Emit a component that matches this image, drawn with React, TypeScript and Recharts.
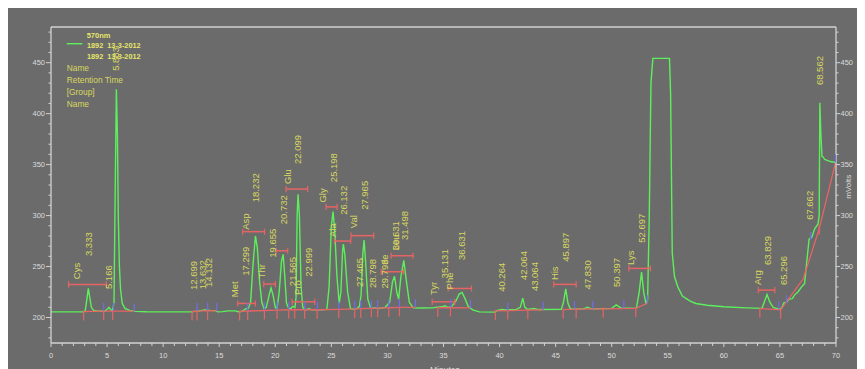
import { ComposedChart, Line, Scatter, XAxis, YAxis, ReferenceLine } from "recharts";

// detector trace, [minutes, mVolts]
const trace: [number, number][] = [
  [0, 205.5], [2.9, 205.5], [3.05, 206.5], [3.2, 218], [3.33, 228.5], [3.45, 220], [3.6, 210], [3.8, 207],
  [4.2, 206.3], [4.8, 206.2], [5.0, 208], [5.17, 210], [5.35, 207.5], [5.5, 207], [5.62, 215], [5.72, 320],
  [5.83, 424], [5.92, 380], [6.0, 300], [6.1, 250], [6.2, 228], [6.35, 214], [6.6, 209], [7.0, 207],
  [7.5, 206], [8.5, 205.7], [12.6, 205.5], [12.8, 206], [13.2, 206.5], [13.7, 207.5], [14.2, 207],
  [14.7, 206.8], [14.85, 205.5], [15.3, 205.8], [15.8, 206.5], [16.4, 206.5], [16.8, 205.5], [17.1, 206.5],
  [17.35, 208.5], [17.6, 209], [17.8, 215], [18.0, 250], [18.23, 280], [18.4, 268], [18.6, 235], [18.8, 215],
  [19.0, 208.5], [19.2, 210], [19.45, 222], [19.62, 229], [19.8, 222], [20.0, 210], [20.15, 208.5],
  [20.35, 225], [20.55, 255], [20.7, 262], [20.85, 240], [21.0, 214], [21.2, 209], [21.4, 209], [21.57, 211],
  [21.75, 210], [21.85, 220], [21.95, 300], [22.03, 321], [22.15, 300], [22.3, 230], [22.45, 210],
  [22.7, 207.5], [23.0, 208.5], [23.3, 207.5], [24.0, 207.5], [24.6, 208], [24.8, 230], [25.0, 290],
  [25.15, 304], [25.3, 285], [25.5, 240], [25.7, 214], [25.85, 225], [26.0, 265], [26.07, 272], [26.2, 262],
  [26.45, 225], [26.7, 209], [27.0, 208], [27.3, 209], [27.5, 211], [27.65, 222], [27.8, 262], [27.92, 276],
  [28.05, 255], [28.25, 218], [28.5, 209], [28.8, 209.5], [29.3, 209], [29.8, 210], [30.2, 215], [30.45, 235],
  [30.63, 240.5], [30.85, 224], [31.0, 218], [31.2, 240], [31.46, 256], [31.7, 235], [31.95, 215],
  [32.3, 209.5], [33.0, 209.3], [34.0, 209.5], [34.8, 210.5], [35.13, 211.5], [35.4, 210], [35.7, 210.5],
  [36.1, 216], [36.4, 223], [36.65, 224.6], [36.9, 219], [37.2, 211], [37.6, 207.5], [38.2, 205.5],
  [39.6, 205.3], [39.8, 207], [40.2, 208], [40.5, 207.5], [41.5, 208], [41.85, 210], [42.07, 219],
  [42.25, 210], [42.5, 208], [43.06, 208.8], [43.5, 207.8], [45.5, 208], [45.7, 215], [45.9, 228],
  [46.1, 214], [46.3, 208.5], [47.5, 208.5], [47.83, 210], [48.2, 208.5], [50.0, 209], [50.4, 212.4],
  [50.8, 209.5], [52.2, 209], [52.45, 225], [52.66, 244.6], [52.85, 225], [53.05, 214], [53.2, 217],
  [53.35, 300], [53.5, 430], [53.67, 454.2], [55.15, 454.2], [55.25, 420], [55.4, 263], [55.6, 240],
  [55.9, 230], [56.3, 221], [57.0, 216], [57.5, 213.8], [58.5, 212], [60.0, 210.5], [62.0, 209.5],
  [63.4, 209], [63.6, 215], [63.85, 222.6], [64.1, 215], [64.4, 210], [65.0, 208], [65.2, 210],
  [65.35, 214.4], [65.6, 215], [65.8, 218], [66.1, 218.5], [66.3, 222], [66.6, 225], [67.0, 231],
  [67.2, 233.5], [67.35, 250], [67.6, 277], [67.85, 279], [68.1, 287], [68.4, 291.8], [68.5, 300],
  [68.56, 410.6], [68.65, 380], [68.75, 358], [68.85, 357.5], [69.0, 355], [69.5, 353], [70.0, 352],
];

// integration baseline, null = break
const baseline: [number, number | null][] = [
  [2.91, 205.8], [4.7, 206.2], [5.5, 206.3], [7.43, 206.2], [10, null],
  [12.58, 205.8], [13.02, 206.2], [13.97, 206.7], [14.78, 206.6], [15.5, null],
  [16.82, 206], [17.54, 206.4], [19.03, 206.9], [20.16, 207.3], [21.2, 207.6], [21.73, 207.8],
  [22.62, 207.6], [23.73, 207.6], [25.66, 208], [27.08, 208.4], [27.62, 208.7], [28.57, 209],
  [29.13, 209.2], [30.12, 209.6], [31.07, 210], [32.5, 210], [33.5, null],
  [34.49, 209.6], [35.62, 209.8], [37.4, 209.5], [38.5, null],
  [39.63, 206.5], [40.73, 206.8], [42.52, 207.2], [43.89, 207.5], [44.8, null],
  [45.67, 207.8], [46.83, 208.2], [48.31, 208.5], [49.24, 208.5], [51.08, 208.8], [52.15, 209],
  [53.17, 214], [58, null],
  [63.21, 208.8], [65.06, 207.5], [67.08, 238], [68.5, 287], [69.96, 352],
];

// red drop lines at peak starts/ends
const dropMarks: [number, number][] = [
  [2.91, 205.8], [4.7, 206.2], [5.5, 206.3], [12.58, 205.8], [13.02, 206.2], [13.97, 206.7],
  [16.82, 206], [17.54, 206.4], [19.03, 206.9], [20.16, 207.3], [21.2, 207.6], [21.73, 207.8],
  [22.62, 207.6], [23.73, 207.6], [25.66, 208], [27.08, 208.4], [27.62, 208.7], [28.57, 209],
  [29.13, 209.2], [30.12, 209.6], [31.07, 210], [34.49, 209.6], [35.62, 209.8], [39.63, 206.5],
  [40.73, 206.8], [42.52, 207.2], [45.67, 207.8], [46.83, 208.2], [49.24, 208.5], [52.15, 209],
  [63.21, 208.8], [65.06, 207.5], [68.5, 290],
];

// blue peak-end marks
const endMarks: [number, number][] = [
  [4.7, 206.3], [5.59, 206.5], [7.43, 206], [13.02, 206.3], [13.97, 206.8], [14.78, 206.6],
  [17.54, 206.5], [19.03, 207], [20.16, 207.4], [21.2, 207.7], [22.64, 207.6], [23.76, 207.6],
  [25.66, 208], [27.08, 208.5], [27.62, 208.8], [28.57, 209], [29.13, 209.3], [30.12, 209.6],
  [31.07, 210], [32.5, 210], [35.68, 210], [37.4, 209.5], [40.73, 207], [43.89, 207.5],
  [46.68, 208.2], [48.31, 208.5], [51.08, 208.8], [53.17, 214], [64.9, 208], [65.57, 214],
  [67.73, 276], [69.96, 352],
];

// named-peak retention windows
const widthBars: { name: string; from: number; to: number; mv: number }[] = [
  { name: "Cys", from: 1.57, to: 4.93, mv: 232.5 },
  { name: "Met", from: 16.65, to: 18.22, mv: 213.8 },
  { name: "Asp", from: 17.09, to: 19.05, mv: 284.2 },
  { name: "Thr", from: 18.97, to: 20.01, mv: 232.8 },
  { name: "Ser", from: 20.07, to: 21.11, mv: 265.5 },
  { name: "Glu", from: 20.96, to: 22.89, mv: 326 },
  { name: "Pro", from: 21.5, to: 23.52, mv: 215.4 },
  { name: "Gly", from: 24.53, to: 25.51, mv: 308.5 },
  { name: "Ala", from: 25.27, to: 26.73, mv: 275 },
  { name: "Val", from: 26.76, to: 28.78, mv: 280.3 },
  { name: "Ile", from: 29.44, to: 31.45, mv: 244.9 },
  { name: "Leu", from: 30.33, to: 32.29, mv: 260.6 },
  { name: "Tyr", from: 33.99, to: 36.0, mv: 215.4 },
  { name: "Phe", from: 35.42, to: 37.5, mv: 228.5 },
  { name: "His", from: 44.83, to: 46.83, mv: 232.5 },
  { name: "Lys", from: 51.53, to: 53.46, mv: 248.2 },
  { name: "Arg", from: 63.07, to: 64.55, mv: 226.9 },
];

// vertical peak labels: text, minutes, mVolts at text start
const peakLabels: [string, number, number][] = [
  ["Cys", 2.26, 237.6], ["3.333", 3.3, 260.3], ["5.166", 5.14, 227.9], ["5.883", 5.74, 442],
  ["12.699", 12.67, 227], ["13.632", 13.47, 227.8], ["14.132", 14.06, 230], ["Met", 16.35, 220],
  ["17.299", 17.33, 241], ["Asp", 17.33, 286], ["18.232", 18.22, 313], ["Thr", 18.73, 238.4],
  ["19.655", 19.71, 258.7], ["20.732", 20.7, 291.5], ["Glu", 21.05, 331], ["21.565", 21.55, 230.8],
  ["22.099", 22.0, 350.6], ["Pro", 21.95, 222], ["22.999", 22.93, 240], ["Gly", 24.17, 312.8],
  ["25.198", 25.15, 332.8], ["Ala", 25.1, 279], ["26.132", 26.1, 300.7], ["Val", 26.94, 287.6],
  ["27.465", 27.5, 230], ["27.965", 27.95, 305.6], ["28.798", 28.69, 229], ["29.798", 29.73, 228.5],
  ["Ile", 29.78, 252], ["30.631", 30.71, 266], ["Leu", 30.75, 266], ["31.498", 31.52, 276],
  ["Tyr", 34.13, 222], ["35.131", 35.08, 238.4], ["Phe", 35.56, 227.6], ["36.631", 36.57, 256.4],
  ["40.264", 40.17, 225.2], ["42.064", 42.16, 236.7], ["43.064", 43.1, 225.9], ["His", 44.92, 236.7],
  ["45.897", 45.9, 254.7], ["47.830", 47.81, 227.6], ["50.397", 50.43, 230], ["Lys", 51.68, 251.5],
  ["52.697", 52.66, 273.4], ["Arg", 62.98, 231.8], ["63.829", 63.87, 251.5], ["65.296", 65.3, 231.8],
  ["67.662", 67.67, 295.8], ["68.562", 68.54, 428],
];

const xTicks = Array.from({ length: 71 }, (_, i) => i);
const yTicks = Array.from({ length: 31 }, (_, i) => 180 + i * 10);

const BG = "#6b6b6b";
const AXIS = "#d2d2d2";
const TICK_TEXT = "#dcdcdc";
const GREEN = "#5cf05c";
const RED = "#e86464";
const BLUE = "#6e6eea";
const YELLOW = "#d8d860";
const FONT = "'Liberation Sans', Arial, sans-serif";

function XTick({ x, y, payload }: any) {
  const major = payload.value % 5 === 0;
  return (
    <g>
      <line x1={x} x2={x} y1={y} y2={y + (major ? 4 : 3)} stroke={AXIS} />
      {major && (
        <text x={x} y={y + 12.5} textAnchor="middle" dominantBaseline="central" fill={TICK_TEXT} fontSize={7.5} fontFamily={FONT}>
          {payload.value}
        </text>
      )}
    </g>
  );
}

function YTickLeft({ x, y, payload }: any) {
  const major = payload.value % 50 === 0;
  return (
    <g>
      <line x1={x} x2={x - (major ? 5 : 2.5)} y1={y} y2={y} stroke={AXIS} />
      {major && (
        <text x={x - 6} y={y} textAnchor="end" dominantBaseline="central" fill={TICK_TEXT} fontSize={7.5} fontFamily={FONT}>
          {payload.value}
        </text>
      )}
    </g>
  );
}

function YTickRight({ x, y, payload }: any) {
  const major = payload.value % 50 === 0;
  return (
    <g>
      <line x1={x} x2={x + (major ? 4 : 2.5)} y1={y} y2={y} stroke={AXIS} />
      {major && (
        <text x={x + 4.5} y={y} textAnchor="start" dominantBaseline="central" fill={TICK_TEXT} fontSize={7.5} fontFamily={FONT}>
          {payload.value}
        </text>
      )}
    </g>
  );
}

const dropShape = (p: any) => <line x1={p.cx} x2={p.cx} y1={p.cy - 1} y2={p.cy + 9} stroke={RED} strokeWidth={1.2} />;
const endShape = (p: any) => <line x1={p.cx} x2={p.cx} y1={p.cy} y2={p.cy - 8} stroke={BLUE} strokeWidth={1.2} />;
const labelShape = (p: any) => (
  <text
    x={p.cx}
    y={p.cy}
    transform={`rotate(-90 ${p.cx} ${p.cy})`}
    dominantBaseline="central"
    fill={YELLOW}
    fontSize={9.5}
    fontFamily={FONT}
  >
    {p.payload.text}
  </text>
);

export default function App() {
  const traceData = trace.map(([t, v]) => ({ t, v }));
  const baseData = baseline.map(([t, v]) => ({ t, v }));
  const dropData = dropMarks.map(([t, v]) => ({ t, v }));
  const endData = endMarks.map(([t, v]) => ({ t, v }));
  const labelData = peakLabels.map(([text, t, v]) => ({ text, t, v }));

  return (
    <div style={{ position: "relative", width: 857, height: 361, background: BG, overflow: "hidden" }}>
      <ComposedChart width={857} height={361} data={traceData} margin={{ top: 19, right: 0, bottom: 0, left: 0 }}>
        <XAxis
          dataKey="t"
          type="number"
          domain={[0, 70]}
          ticks={xTicks}
          interval={0}
          height={26}
          tickSize={0}
          tickMargin={0}
          tickLine={false}
          axisLine={{ stroke: AXIS, strokeWidth: 1.3 }}
          tick={<XTick />}
          allowDataOverflow
        />
        <YAxis
          yAxisId="left"
          type="number"
          domain={[175, 485]}
          ticks={yTicks}
          interval={0}
          width={43}
          tickSize={0}
          tickMargin={0}
          tickLine={false}
          axisLine={{ stroke: AXIS, strokeWidth: 1.3 }}
          tick={<YTickLeft />}
          allowDataOverflow
        />
        <YAxis
          yAxisId="right"
          orientation="right"
          type="number"
          domain={[175, 485]}
          ticks={yTicks}
          interval={0}
          width={29}
          tickSize={0}
          tickMargin={0}
          tickLine={false}
          axisLine={{ stroke: AXIS, strokeWidth: 1.3 }}
          tick={<YTickRight />}
          allowDataOverflow
        />
        <ReferenceLine yAxisId="left" y={485} stroke={AXIS} strokeWidth={1.3} ifOverflow="visible" />
        <Line yAxisId="left" dataKey="v" type="linear" stroke={GREEN} strokeWidth={1.4} dot={false} isAnimationActive={false} />
        <Line
          yAxisId="left"
          data={baseData}
          dataKey="v"
          type="linear"
          stroke={RED}
          strokeWidth={1.3}
          dot={false}
          connectNulls={false}
          isAnimationActive={false}
        />
        <Scatter yAxisId="left" data={dropData} dataKey="v" shape={dropShape} isAnimationActive={false} />
        <Scatter yAxisId="left" data={endData} dataKey="v" shape={endShape} isAnimationActive={false} />
        {widthBars.map((b) => (
          <ReferenceLine
            key={b.name}
            yAxisId="left"
            segment={[{ x: b.from, y: b.mv }, { x: b.to, y: b.mv }]}
            stroke={RED}
            strokeWidth={1.5}
            ifOverflow="visible"
          />
        ))}
        {widthBars.map((b) => (
          <ReferenceLine
            key={b.name + "-a"}
            yAxisId="left"
            segment={[{ x: b.from, y: b.mv - 3 }, { x: b.from, y: b.mv + 3 }]}
            stroke={RED}
            strokeWidth={1.2}
            ifOverflow="visible"
          />
        ))}
        {widthBars.map((b) => (
          <ReferenceLine
            key={b.name + "-b"}
            yAxisId="left"
            segment={[{ x: b.to, y: b.mv - 3 }, { x: b.to, y: b.mv + 3 }]}
            stroke={RED}
            strokeWidth={1.2}
            ifOverflow="visible"
          />
        ))}
        <Scatter yAxisId="left" data={labelData} dataKey="v" shape={labelShape} isAnimationActive={false} />
      </ComposedChart>
      <svg width={857} height={361} style={{ position: "absolute", left: 0, top: 0, pointerEvents: "none" }}>
        <g fontFamily={FONT}>
          <text x={78.7} y={27} dominantBaseline="central" fill="#e6e66a" fontSize={7.5} fontWeight="bold">570nm</text>
          <line x1={58.7} x2={74.3} y1={35.7} y2={35.7} stroke={GREEN} strokeWidth={1.4} />
          <text x={79} y={37.7} dominantBaseline="central" fill="#e6e66a" fontSize={7.3} fontWeight="bold" xmlSpace="preserve">1892  13-3-2012</text>
          <text x={79} y={48} dominantBaseline="central" fill="#e6e66a" fontSize={7.3} fontWeight="bold" xmlSpace="preserve">1892  13-3-2012</text>
          <text x={58.7} y={60.3} dominantBaseline="central" fill={YELLOW} fontSize={8.4}>Name</text>
          <text x={58.7} y={72} dominantBaseline="central" fill={YELLOW} fontSize={8.4}>Retention Time</text>
          <text x={58.7} y={84} dominantBaseline="central" fill={YELLOW} fontSize={8.4}>[Group]</text>
          <text x={58.7} y={96} dominantBaseline="central" fill={YELLOW} fontSize={8.4}>Name</text>
          <text
            x={840.3}
            y={178.7}
            textAnchor="middle"
            dominantBaseline="central"
            transform="rotate(-90 840.3 178.7)"
            fill={TICK_TEXT}
            fontSize={8}
          >
            mVolts
          </text>
          <text x={422} y={365} fill={TICK_TEXT} fontSize={8.5}>Minutes</text>
        </g>
      </svg>
    </div>
  );
}
